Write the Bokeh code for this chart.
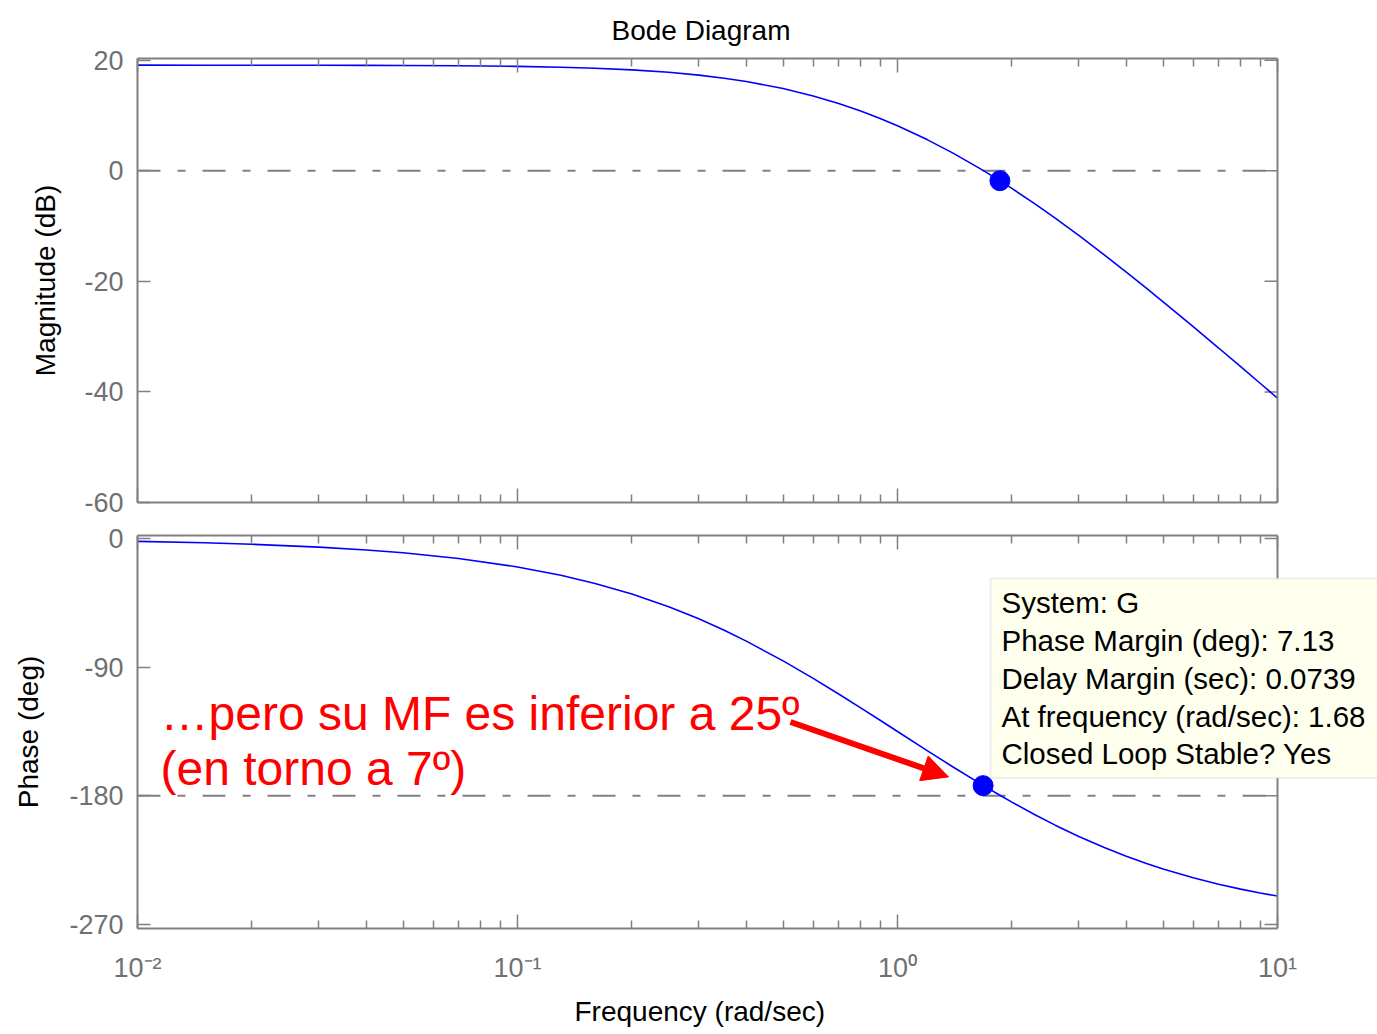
from bokeh.plotting import figure
from bokeh.models import (Range1d, FixedTicker, LogAxis, Label,
                          BoxAnnotation, Span, Arrow, NormalHead, Title)
from bokeh.layouts import column
from bokeh.embed import file_html
from bokeh.resources import INLINE

# ---- open-loop frequency response of G ----
freq = [0.01, 0.015, 0.02, 0.03, 0.04, 0.05, 0.07, 0.1, 0.13, 0.16, 0.2, 0.25,
        0.3, 0.35, 0.4, 0.5, 0.6, 0.7, 0.8, 0.9, 1.0, 1.2, 1.4, 1.68, 1.87,
        2.0, 2.3, 2.6, 3.0, 3.5, 4.0, 4.5, 5.0, 6.0, 7.0, 8.0, 9.0, 10.0]
mag_db = [19.10, 19.09, 19.09, 19.08, 19.06, 19.04, 18.99, 18.88, 18.72, 18.54,
          18.24, 17.80, 17.29, 16.74, 16.14, 14.86, 13.52, 12.15, 10.79, 9.45,
          8.13, 5.59, 3.19, 0.06, -1.92, -3.20, -6.00, -8.57, -11.70, -15.20,
          -18.32, -21.14, -23.70, -28.20, -32.06, -35.43, -38.43, -41.12]
phase_deg = [-2.00, -3.01, -4.01, -6.01, -8.01, -10.00, -13.98, -19.88, -25.70,
             -31.41, -38.82, -47.73, -56.19, -64.21, -71.77, -85.60, -97.86,
             -108.74, -118.46, -127.16, -135.00, -148.54, -159.80, -172.70,
             -179.97, -184.40, -193.23, -200.51, -208.41, -216.18, -222.27,
             -227.17, -231.18, -237.34, -241.84, -245.26, -247.95, -250.12]

# stability margin points
gm_freq, gm_mag = 1.86, -1.8
pm_freq, pm_phase = 1.68, -172.87

mag_ticks = [-60, -40, -20, 0, 20]
phase_ticks = [-270, -180, -90, 0]
decades = [0.01, 0.1, 1, 10]
decade_labels = ["10\u207b\u00b2", "10\u207b\u00b9", "10\u2070", "10\u00b9"]
minor_freq = [k * d for d in (0.01, 0.1, 1) for k in range(2, 10)]
f_min, f_max = decades[0], decades[-1]

info_lines = ["System: G",
              "Phase Margin (deg): 7.13",
              "Delay Margin (sec): 0.0739",
              "At frequency (rad/sec): 1.68",
              "Closed Loop Stable? Yes"]

FONT = "Liberation Sans"
GRAY = "#808080"
LABEL_GRAY = "#707070"
BLUE = "#0000ff"
RED = "#ff0000"

# page geometry (canvas pixels); the plot frames run to the right page edge,
# the visible axes box stops at 10 rad/s
W = 1377
FRAME_L, BOX_R = 137, 1277
PX_PER_DECADE = (BOX_R - FRAME_L) / 3
TOP_H, BOT_H = 519, 515
MAG_RANGE = (-60, 20.3)
PH_RANGE = (-272.8, 2.1)
MAG_FRAME = (57, 502)      # canvas y of frame top/bottom
PH_FRAME = (535, 929)
TICK_IN = 13


def fx(cx):
    return 10 ** (-2 + (cx - FRAME_L) / PX_PER_DECADE)


def ph_y(cy):
    t, b = PH_FRAME
    return PH_RANGE[1] - (cy - t) * (PH_RANGE[1] - PH_RANGE[0]) / (b - t)


def axis_style(ax, tick_in=14):
    ax.axis_line_color = GRAY
    ax.axis_line_width = 2
    ax.major_tick_line_color = GRAY
    ax.minor_tick_line_color = GRAY
    ax.major_tick_line_width = 1.5
    ax.minor_tick_line_width = 1.5
    ax.major_tick_out = 0
    ax.minor_tick_out = 0
    ax.major_tick_in = tick_in
    ax.minor_tick_in = 8
    ax.major_label_text_font_size = "2px"
    ax.major_label_text_alpha = 0
    ax.major_label_standoff = 0


def make_panel(height, y_range, yticks, ylabel, label_standoff,
               border_top, border_bottom):
    p = figure(width=W, height=height, x_axis_type="log",
               x_range=Range1d(f_min, fx(W)), y_range=Range1d(*y_range),
               output_backend="svg", toolbar_location=None,
               min_border_left=FRAME_L, min_border_right=0,
               min_border_top=border_top, min_border_bottom=border_bottom)
    xt = FixedTicker(ticks=decades, minor_ticks=minor_freq)
    yt = FixedTicker(ticks=yticks, minor_ticks=[])
    p.xaxis.ticker = xt
    p.yaxis.ticker = yt
    p.add_layout(LogAxis(ticker=xt), "above")
    for ax in p.xaxis:
        axis_style(ax)
        ax.bounds = (f_min, f_max)
    yl = p.yaxis[0]
    axis_style(yl, tick_in=TICK_IN)
    yl.major_label_text_font_size = "27px"
    yl.major_label_text_alpha = 1
    yl.major_label_text_font = FONT
    yl.major_label_text_color = LABEL_GRAY
    yl.major_label_standoff = 14
    yl.major_label_overrides = {t: str(t) for t in yticks}
    yl.axis_label = ylabel
    yl.axis_label_text_font = FONT
    yl.axis_label_text_font_size = "28px"
    yl.axis_label_text_font_style = "normal"
    yl.axis_label_text_color = "black"
    yl.axis_label_standoff = label_standoff
    p.xgrid.visible = False
    p.ygrid.visible = False
    p.outline_line_color = None
    # right-hand side of the axes box with its inward ticks
    p.add_layout(Span(location=f_max, dimension="height", line_color=GRAY,
                      line_width=2))
    tick_end = f_max * 10 ** (-TICK_IN / PX_PER_DECADE)
    p.segment(x0=[f_max] * len(yticks), y0=yticks,
              x1=[tick_end] * len(yticks), y1=yticks,
              line_color=GRAY, line_width=1.5)
    return p


def text(p, x, y, s, size="29px", color="black", align="left",
         baseline="alphabetic"):
    p.add_layout(Label(x=x, y=y, text=s, text_font=FONT, text_font_size=size,
                       text_color=color, text_align=align,
                       text_baseline=baseline))


# ---- magnitude ----
p1 = make_panel(TOP_H, MAG_RANGE, mag_ticks, "Magnitude (dB)", 20,
                MAG_FRAME[0], TOP_H - MAG_FRAME[1])
p1.title.text = "Bode Diagram"
p1.title.align = "left"
p1.title.offset = 611 - FRAME_L
p1.title.standoff = 25
p1.title.text_font = FONT
p1.title.text_font_size = "28px"
p1.title.text_font_style = "normal"
p1.title.text_color = "black"

p1.line([f_min, f_max], [0, 0], line_color=GRAY, line_width=2,
        line_dash="23 17 8 17")
p1.line(freq, mag_db, line_color=BLUE, line_width=1.6)
p1.scatter([gm_freq], [gm_mag], size=20, color=BLUE)

# ---- phase ----
p2 = make_panel(BOT_H, PH_RANGE, phase_ticks, "Phase (deg)", 22,
                PH_FRAME[0] - TOP_H, TOP_H + BOT_H - PH_FRAME[1])
xb = p2.below[0]
xb.major_label_overrides = dict(zip(decades, decade_labels))
xb.major_label_text_font = FONT
xb.major_label_text_font_size = "27px"
xb.major_label_text_alpha = 1
xb.major_label_text_color = LABEL_GRAY
xb.major_label_standoff = 24
p2.add_layout(Title(text="Frequency  (rad/sec)", align="left",
                    offset=574 - FRAME_L, standoff=16, text_font=FONT,
                    text_font_size="28px", text_font_style="normal",
                    text_color="black"), "below")

p2.line([f_min, f_max], [-180, -180], line_color=GRAY, line_width=2,
        line_dash="23 17 8 17")
p2.line(freq, phase_deg, line_color=BLUE, line_width=1.6)
p2.scatter([pm_freq], [pm_phase], size=20, color=BLUE)

# margin read-out box
p2.add_layout(BoxAnnotation(left=fx(990), right=fx(W + 20), top=ph_y(578),
                            bottom=ph_y(778), fill_color="#ffffee",
                            fill_alpha=1.0, line_color="#c8c8c8",
                            line_width=2))
for i, s in enumerate(info_lines):
    text(p2, fx(1001), ph_y(602 + 38 * i), s, size="29.5px", baseline="middle")

# red note with arrow to the phase-margin point
text(p2, fx(160), ph_y(713), "\u2026pero su MF es inferior a 25\u00ba",
     size="48px", color=RED)
text(p2, fx(160), ph_y(769), "(en torno a 7\u00ba)", size="48px", color=RED)
p2.add_layout(Arrow(end=NormalHead(size=26, fill_color=RED, line_color=RED),
                    x_start=fx(790), y_start=ph_y(722),
                    x_end=fx(948), y_end=ph_y(777),
                    line_color=RED, line_width=6))

layout = column(p1, p2)
with open("out.html", "w") as f:
    f.write(file_html(layout, INLINE))
